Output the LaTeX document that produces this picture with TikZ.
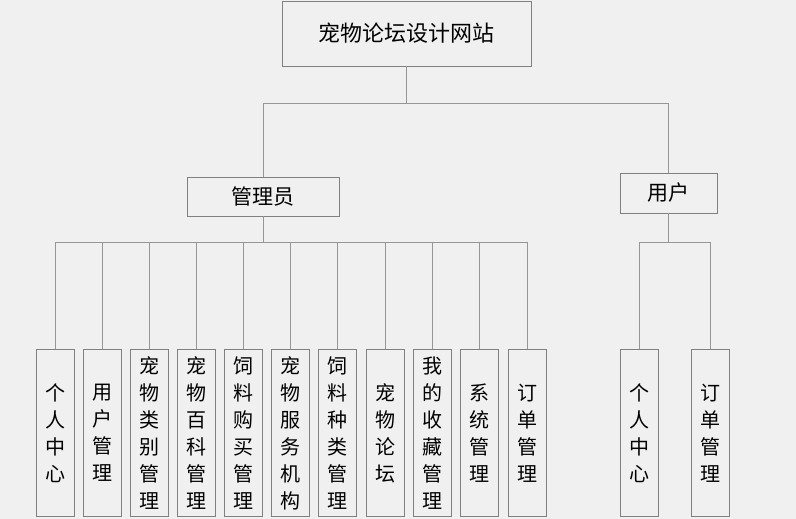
\documentclass[tikz,border=0pt]{standalone}
\usepackage{fontspec}
\setmainfont{Noto Sans CJK SC}
\usepackage{tikz}
\definecolor{boxgray}{RGB}{128,128,128}
\definecolor{linegray}{RGB}{150,150,150}
\definecolor{bggray}{RGB}{240,240,240}

\begin{document}
\begin{tikzpicture}[x=1pt,y=-1pt]
\tikzstyle{box}=[draw=boxgray, line width=0.9pt, inner sep=0pt]
\tikzstyle{leaf}=[box, anchor=north, minimum width=38pt, minimum height=167pt,
  align=center, font=\fontsize{20}{27}\selectfont]
\tikzstyle{link}=[draw=linegray, line width=0.9pt]
% background and margins
\fill[bggray] (0,0) rectangle (796,519);
\useasboundingbox (0,0) rectangle (796,519);
% top levels
\node[box, minimum width=249pt, minimum height=65pt, font=\fontsize{22}{22}\selectfont]
  (site) at (406.5,33.5) {宠物论坛设计网站};
\node[box, minimum width=152pt, minimum height=39pt, font=\fontsize{21}{21}\selectfont]
  (admin) at (263,196.5) {管理员};
\node[box, minimum width=97pt, minimum height=40pt, font=\fontsize{21}{21}\selectfont]
  (user) at (668.5,193) {用户};
\coordinate (bus1) at (0,103);
\coordinate (bus2) at (0,242);
% leaves of admin
\foreach \name/\x/\txt in {
    a1/55.5/个\\人\\中\\心,
    a2/102.5/用\\户\\管\\理,
    a3/149.5/宠\\物\\类\\别\\管\\理,
    a4/196.5/宠\\物\\百\\科\\管\\理,
    a5/243.5/饲\\料\\购\\买\\管\\理,
    a6/290.5/宠\\物\\服\\务\\机\\构,
    a7/337.5/饲\\料\\种\\类\\管\\理,
    a8/385/宠\\物\\论\\坛,
    a9/432/我\\的\\收\\藏\\管\\理,
    a10/479.5/系\\统\\管\\理,
    a11/527/订\\单\\管\\理}
  \node[leaf] (\name) at (\x,349) {\txt};
% leaves of user
\node[leaf] (u1) at (639,349) {个\\人\\中\\心};
\node[leaf] (u2) at (710,349) {订\\单\\管\\理};
% connectors
\draw[link] (site.south) -- (site.south |- bus1);
\draw[link] (admin.north) -- (admin.north |- bus1) -- (user.north |- bus1) -- (user.north);
\draw[link] (admin.south) -- (admin.south |- bus2);
\draw[link] (a1.north |- bus2) -- (a11.north |- bus2);
\foreach \name in {a1,a2,a3,a4,a5,a6,a7,a8,a9,a10,a11}
  \draw[link] (\name.north) -- (\name.north |- bus2);
\draw[link] (user.south) -- (user.south |- bus2);
\draw[link] (u1.north) -- (u1.north |- bus2) -- (u2.north |- bus2) -- (u2.north);
\end{tikzpicture}
\end{document}
